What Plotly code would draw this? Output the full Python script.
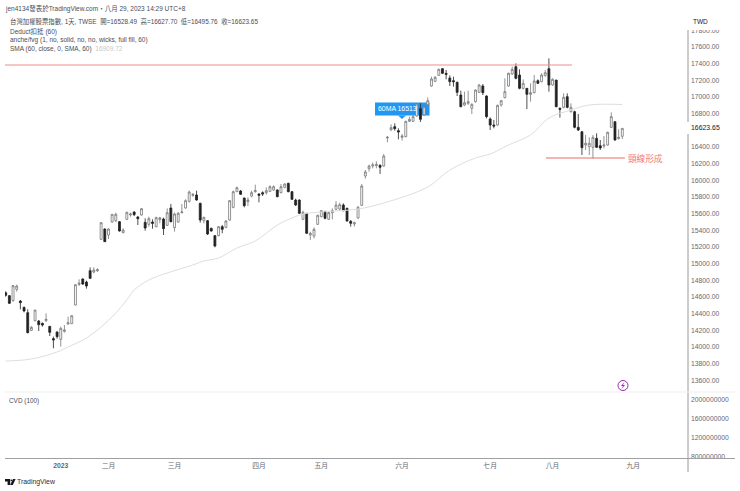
import plotly.graph_objects as go

opens = [14652,14616,14556,14692,14552,14476,14412,14200,14316,14312,14284,14316,14248,14100,14180,14092,14188,14276,14280,14504,14752,14816,14780,14916,14900,14916,
15292,15416,15344,15500,15516,15504,15372,15532,15584,15620,15560,15584,15496,15472,15500,15444,15528,15536,15460,15668,15432,15500,15612,15668,15748,15820,15824,15724,15516,15516,15424,15336,15336,
15444,15436,15524,15676,15864,15872,15788,15744,15812,15864,15836,15852,15852,15868,15884,15884,15852,15916,15964,15864,15764,15764,15532,15604,15344,15332,15472,15564,15624,15532,15612,15652,15656,15704,15664,15508,15476,
15548,15700,16052,16140,16172,16176,16180,16172,16508,16604,16644,16596,16516,16524,16708,16708,16772,16860,16784,16908,17132,17188,17260,17340,17284,17228,17196,17176,17024,16904,16924,16864,16944,17056,17132,17012,16736,16664,16664,
16904,16992,17132,17276,17364,17264,17104,17104,17032,17052,17196,17184,17256,17340,17144,17204,16864,16876,17004,16824,16824,16636,16584,16424,16404,16396,16504,16416,16412,16424,16636,16704,16500,16528.49]
highs = [14668,14624,14744,14748,14564,14484,14452,14252,14444,14324,14292,14404,14248,14124,14188,14244,14264,14364,14380,14752,14812,14824,14796,14956,14956,14944,
15500,15424,15424,15596,15612,15512,15424,15624,15612,15628,15572,15668,15544,15564,15532,15564,15560,15552,15664,15716,15612,15620,15716,15772,15876,15844,15876,15732,15564,15524,15432,15344,15452,
15464,15524,15764,15876,15924,15884,15792,15796,15876,15948,15844,15868,15916,15940,15940,15892,15956,15964,15972,15872,15780,15772,15636,15604,15384,15436,15588,15644,15636,15624,15664,15752,15732,15724,15672,15524,15504,
15692,15956,16124,16188,16212,16228,16192,16316,16532,16672,16684,16624,16556,16716,16764,16784,16924,16924,16904,16996,17244,17252,17340,17348,17324,17260,17244,17184,17076,17064,17076,16924,17092,17156,17156,17020,16756,16724,16908,
16964,17224,17292,17364,17404,17332,17212,17104,17164,17264,17212,17284,17324,17464,17224,17204,16876,17044,17044,16924,16836,16796,16584,16544,16516,16544,16564,16484,16532,16584,16816,16704,16612,16627.70]
lows = [14604,14516,14544,14664,14452,14416,14164,14192,14308,14192,14244,14300,14132,13984,14100,14004,14172,14268,14276,14500,14732,14744,14700,14816,14884,14900,
15284,15260,15296,15492,15500,15384,15364,15524,15564,15572,15464,15576,15396,15444,15420,15436,15484,15344,15452,15496,15384,15492,15604,15660,15732,15804,15756,15492,15484,15344,15384,15196,15328,
15364,15424,15516,15664,15860,15824,15676,15692,15796,15852,15736,15812,15828,15860,15876,15796,15844,15904,15856,15764,15692,15596,15524,15356,15284,15304,15464,15556,15532,15524,15532,15644,15636,15628,15504,15444,15444,
15540,15692,16020,16104,16144,16144,16076,16164,16456,16596,16596,16492,16476,16516,16700,16700,16764,16700,16776,16900,17124,17180,17252,17276,17212,17132,17124,17012,16876,16892,16904,16796,16932,17048,17024,16744,16604,16624,16656,
16884,16984,17124,17264,17212,17092,17092,16856,16944,17044,17156,17176,17244,17064,17136,16876,16752,16864,16864,16812,16624,16592,16304,16364,16304,16264,16388,16364,16384,16416,16628,16476,16492,16495.76]
closes = [14620,14524,14736,14732,14532,14432,14172,14236,14444,14268,14264,14332,14176,14084,14124,14224,14204,14292,14376,14748,14764,14756,14732,14824,14924,14928,
15492,15264,15416,15592,15592,15392,15404,15616,15596,15588,15540,15660,15428,15540,15484,15552,15552,15420,15612,15504,15596,15604,15620,15756,15860,15832,15764,15524,15556,15356,15392,15212,15444,
15412,15512,15756,15864,15912,15832,15696,15764,15852,15876,15820,15836,15876,15924,15924,15804,15924,15956,15864,15772,15704,15604,15616,15364,15364,15412,15580,15636,15544,15612,15636,15704,15708,15636,15512,15484,15492,
15676,15932,16100,16172,16184,16192,16156,16292,16516,16632,16620,16580,16532,16708,16732,16764,16916,16732,16884,16956,17216,17236,17332,17284,17272,17184,17184,17056,16884,16932,16944,16912,17084,17144,17052,16764,16664,16652,16900,
16956,17064,17284,17332,17224,17104,17164,17032,17052,17192,17164,17264,17292,17144,17212,16884,16852,16996,16876,16876,16636,16604,16392,16444,16444,16516,16396,16388,16424,16576,16764,16484,16516,16623.65]

sma_index = [0,7,14,17,22,26,30,33,35,39,44,51,54,58,63,68,74,78,81,86,96,103,115,121,128,132,137,143,148,154,159,168]
sma_values = [13832,13856,13940,14000,14108,14240,14408,14564,14684,14804,14888,14984,15032,15068,15188,15272,15464,15548,15596,15620,15656,15728,15920,16124,16268,16316,16424,16544,16748,16844,16904,16909.72]

month_index = [15,28,46,69,86,108,132,149,171]
month_labels = ["<b>2023</b>","二月","三月","四月","五月","六月","七月","八月","九月"]

price_ticks = [13600,13800,14000,14200,14400,14600,14800,15000,15200,15400,15600,15800,16000,16200,16400,16800,17000,17200,17400,17600,17800]

top_line_span = [-0.2,154.3]
top_line_price = 17384
neck_line_span = [147.2,168.7]
neck_line_price = 16268
last_close = "16623.65"
callout_text = "60MA 16513"
neck_text = "頸線形成"
cvd_ticks = [800000000,1200000000,1600000000,2000000000]

FONT = 'Liberation Sans, "Noto Sans CJK TC", sans-serif'
W, H = 740, 491
L, R, T, B = 5, 688, 14, 459
SPLIT = 392

def px(x): return (x - L) / (R - L)
def py(y): return (B - y) / (B - T)
def path(points):
    return "M " + " L ".join(f"{px(a):.5f},{py(b):.5f}" for a, b in points) + " Z"

fig = go.Figure()
fig.add_trace(go.Scatter(x=sma_index, y=sma_values, mode="lines", line=dict(color="#dedede", width=1, shape="spline", smoothing=1), hoverinfo="skip", yaxis="y"))
fig.add_trace(go.Candlestick(x=list(range(len(opens))), open=opens, high=highs, low=lows, close=closes,
    increasing=dict(line=dict(color="#777777", width=0.8), fillcolor="#ffffff"),
    decreasing=dict(line=dict(color="#222222", width=0.8), fillcolor="#222222"),
    whiskerwidth=0, hoverinfo="skip", yaxis="y"))
fig.add_trace(go.Scatter(x=top_line_span, y=[top_line_price]*2, mode="lines", line=dict(color="#ef8f8f", width=1), hoverinfo="skip", yaxis="y"))
fig.add_trace(go.Scatter(x=neck_line_span, y=[neck_line_price]*2, mode="lines", line=dict(color="#ec6a6a", width=1), hoverinfo="skip", yaxis="y"))
fig.add_trace(go.Scatter(x=[0], y=[cvd_ticks[0]], mode="markers", marker=dict(opacity=0), hoverinfo="skip", yaxis="y2"))

shapes = [
    dict(type="rect", xref="paper", yref="paper", x0=px(375), x1=px(429.5), y0=py(115.5), y1=py(102.5), fillcolor="#2196f3", line=dict(width=0), layer="below"),
    dict(type="path", xref="paper", yref="paper", path=path([(398,115.5),(406,115.5),(402,119)]), fillcolor="#2196f3", line=dict(width=0), layer="below"),
    dict(type="rect", xref="paper", yref="paper", x0=px(680), x1=px(740), y0=py(30), y1=py(13), fillcolor="white", line=dict(width=0)),
    dict(type="line", xref="paper", yref="paper", x0=px(R), x1=px(R), y0=py(30), y1=py(122), line=dict(color="#9a9a9a", width=1)),
    dict(type="line", xref="paper", yref="paper", x0=px(R), x1=px(R), y0=py(134), y1=py(472), line=dict(color="#9a9a9a", width=1)),
    dict(type="line", xref="paper", yref="paper", x0=px(5), x1=px(735), y0=py(458.5), y1=py(458.5), line=dict(color="#a0a0a0", width=1)),
    dict(type="line", xref="paper", yref="paper", x0=px(5), x1=px(735), y0=py(392), y1=py(392), line=dict(color="#efefef", width=1)),
    dict(type="circle", xref="paper", yref="paper", x0=px(618), x1=px(628), y0=py(390.5), y1=py(380.5), fillcolor="white", line=dict(color="#9c27b0", width=1)),
    dict(type="path", xref="paper", yref="paper", path=path([(624.5,382),(621,386),(623,386),(621.5,389),(625,385),(623,385)]), fillcolor="#9c27b0", line=dict(width=0)),
    # TradingView logo
    dict(type="path", xref="paper", yref="paper", path=path([(5,479),(10.2,479),(10.2,485),(7.6,485),(7.6,481.4),(5,481.4)]), fillcolor="#131722", line=dict(width=0)),
    dict(type="circle", xref="paper", yref="paper", x0=px(10.6), x1=px(12.2), y0=py(481.2), y1=py(479.6), fillcolor="#131722", line=dict(width=0)),
    dict(type="path", xref="paper", yref="paper", path=path([(13,479),(15.6,479),(12.8,485),(10.2,485)]), fillcolor="#131722", line=dict(width=0)),
]

def note(x, y, text, size=6.5, color="#4a4d57", anchor="left"):
    return dict(xref="paper", yref="paper", x=px(x), y=py(y), text=text, showarrow=False, xanchor=anchor, yanchor="middle",
                font=dict(family=FONT, size=size, color=color), borderpad=0, borderwidth=0)

annotations = [
    note(5, 8.5, "jen4134發表於TradingView.com・八月 29, 2023 14:29 UTC+8", 6.5),
    note(10, 22, "台灣加權股票指數, 1天, TWSE  開=16528.49  高=16627.70  低=16495.76  收=16623.65", 6.4),
    note(10, 31, "Deduct扣抵 (60)", 6.5),
    note(10, 40, "anche/fvg (1, no, solid, no, no, wicks, full fill, 60)", 6.5),
    note(10, 49, 'SMA (60, close, 0, SMA, 60)  <span style="color:#c8c8c8">16909.72</span>', 6.5),
    note(9, 401, "CVD (100)", 6.4),
    note(693, 22, "TWD", 6.5, "#131722"),
    note(691, 128, last_close, 6.9, "#131722"),
    note(378, 109, callout_text, 6.9, "#ffffff"),
    note(628, 158, neck_text, 8.6, "#ef7777"),
    note(17.3, 482, "TradingView", 6.9, "#2a2e39"),
]

tickfont = dict(family=FONT, size=6.8, color="#666973")
fig.update_layout(
    width=W, height=H, margin=dict(l=L, r=W-R, t=T, b=H-B, pad=0),
    paper_bgcolor="white", plot_bgcolor="rgba(0,0,0,0)", showlegend=False,
    boxgap=0.25, hovermode=False,
    font=dict(family=FONT),
    shapes=shapes, annotations=annotations,
    xaxis=dict(range=[-0.19,185.9], anchor="y2", tickmode="array", tickvals=month_index, ticktext=month_labels,
               showgrid=False, zeroline=False, showline=False, ticks="", rangeslider=dict(visible=False),
               ticklabelstandoff=1, tickfont=tickfont),
    yaxis=dict(domain=[(B-SPLIT)/(B-T),1], range=[13460,17996], side="right", tickmode="array", tickvals=price_ticks,
               ticktext=[f"{v}.00" for v in price_ticks],
               showgrid=False, zeroline=False, showline=False, ticks="", anchor="x", ticklabelstandoff=2,
               tickfont=tickfont),
    yaxis2=dict(domain=[0,(B-SPLIT)/(B-T)], range=[758000000,2168000000], side="right", tickmode="array", tickvals=cvd_ticks,
                ticktext=[str(v) for v in cvd_ticks], showgrid=False, zeroline=False, showline=False, ticks="", anchor="x",
                ticklabelstandoff=2, tickfont=tickfont),
)
fig.write_html("out.html", config=dict(displayModeBar=False), post_script="document.body.style.margin='0';document.body.style.overflow='hidden';")
